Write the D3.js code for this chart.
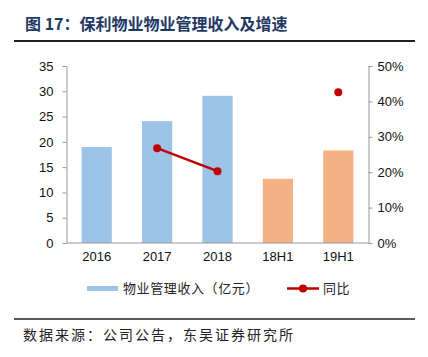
<!DOCTYPE html>
<html><head><meta charset="utf-8">
<script src="https://cdn.jsdelivr.net/npm/d3@7"></script>
<style>body{margin:0;background:#fff}svg{display:block}</style>
</head><body>
<svg id="c" width="428" height="357"></svg>
<script>
const categories = ["2016","2017","2018","18H1","19H1"];
const revenue = [19.0, 24.1, 29.1, 12.7, 18.3];
const growth = [null, 26.8, 20.3, null, 42.6];
const leftTicks = [0,5,10,15,20,25,30,35];
const rightTicks = [0,10,20,30,40,50];
const barColors = ["#9DC3E6","#9DC3E6","#9DC3E6","#F4B183","#F4B183"];

const svg = d3.select("#c");
const L = 66.5, R = 368.5, T = 66, B = 243;
const x = d3.scaleBand().domain(categories).range([L,R]).paddingInner(0.5).paddingOuter(0.25);
const yL = d3.scaleLinear().domain([0,35]).range([B,T]);
const yR = d3.scaleLinear().domain([0,50]).range([B,T]);
const font = "Arial, 'Liberation Sans', sans-serif";
const cjk = "'Noto Sans CJK SC', sans-serif";

// title
svg.append("text").attr("x",25).attr("y",30).attr("font-family",cjk).attr("font-weight","bold")
  .attr("font-size",16).attr("fill","#1F3864").text("图 17：保利物业物业管理收入及增速");
svg.append("line").attr("x1",14).attr("x2",415).attr("y1",41).attr("y2",41).attr("stroke","#222").attr("stroke-width",2);

// bars
svg.selectAll("rect.bar").data(categories).join("rect").attr("class","bar")
  .attr("x",d=>x(d)).attr("width",x.bandwidth())
  .attr("y",(d,i)=>yL(revenue[i])).attr("height",(d,i)=>B-yL(revenue[i]))
  .attr("fill",(d,i)=>barColors[i]);

// axes
const axL = svg.append("g").attr("transform",`translate(${L},0)`)
  .call(d3.axisLeft(yL).tickValues(leftTicks).tickSize(4).tickSizeOuter(0));
const axR = svg.append("g").attr("transform",`translate(${R},0)`)
  .call(d3.axisRight(yR).tickValues(rightTicks).tickFormat(d=>d+"%").tickSize(4).tickSizeOuter(0));
const axB = svg.append("g").attr("transform",`translate(0,${B})`)
  .call(d3.axisBottom(x).tickSize(0).tickSizeOuter(0));
[axL,axR,axB].forEach(g=>{
  g.select(".domain").attr("stroke","#999");
  g.selectAll(".tick line").attr("stroke","#999");
  g.selectAll("text").attr("font-family",font).attr("font-size",13).attr("fill","#111");
});
axL.selectAll("text").attr("x",-13);
axR.selectAll("text").attr("x",9);
axB.selectAll("text").attr("dy","1.15em");
axB.select(".domain").attr("d",`M${L},0H${R}`);

// line
const pts = categories.map((c,i)=>({c,v:growth[i]}));
const line = d3.line().defined(d=>d.v!==null).x(d=>x(d.c)+x.bandwidth()/2).y(d=>yR(d.v));
svg.append("path").datum(pts).attr("d",line).attr("fill","none").attr("stroke","#C00000").attr("stroke-width",2.5);
svg.selectAll("circle.pt").data(pts.filter(d=>d.v!==null)).join("circle").attr("class","pt")
  .attr("cx",d=>x(d.c)+x.bandwidth()/2).attr("cy",d=>yR(d.v)).attr("r",4).attr("fill","#C00000");

// legend
svg.append("rect").attr("x",87).attr("y",286).attr("width",31).attr("height",5).attr("fill","#9DC3E6");
svg.append("text").attr("x",123).attr("y",293).attr("font-family",cjk).attr("font-size",13).attr("letter-spacing",0.6).attr("fill","#222").text("物业管理收入（亿元）");
svg.append("line").attr("x1",287).attr("x2",319).attr("y1",288.5).attr("y2",288.5).attr("stroke","#C00000").attr("stroke-width",2.5);
svg.append("circle").attr("cx",303).attr("cy",288.5).attr("r",4).attr("fill","#C00000");
svg.append("text").attr("x",323).attr("y",293).attr("font-family",cjk).attr("font-size",13).attr("letter-spacing",0.6).attr("fill","#222").text("同比");

// footer
svg.append("line").attr("x1",14).attr("x2",415).attr("y1",319).attr("y2",319).attr("stroke","#222").attr("stroke-width",1.5);
svg.append("text").attr("x",23).attr("y",340).attr("font-family",cjk).attr("font-size",14).attr("letter-spacing",2).attr("fill","#222").text("数据来源：公司公告，东吴证券研究所");
</script>
</body></html>
